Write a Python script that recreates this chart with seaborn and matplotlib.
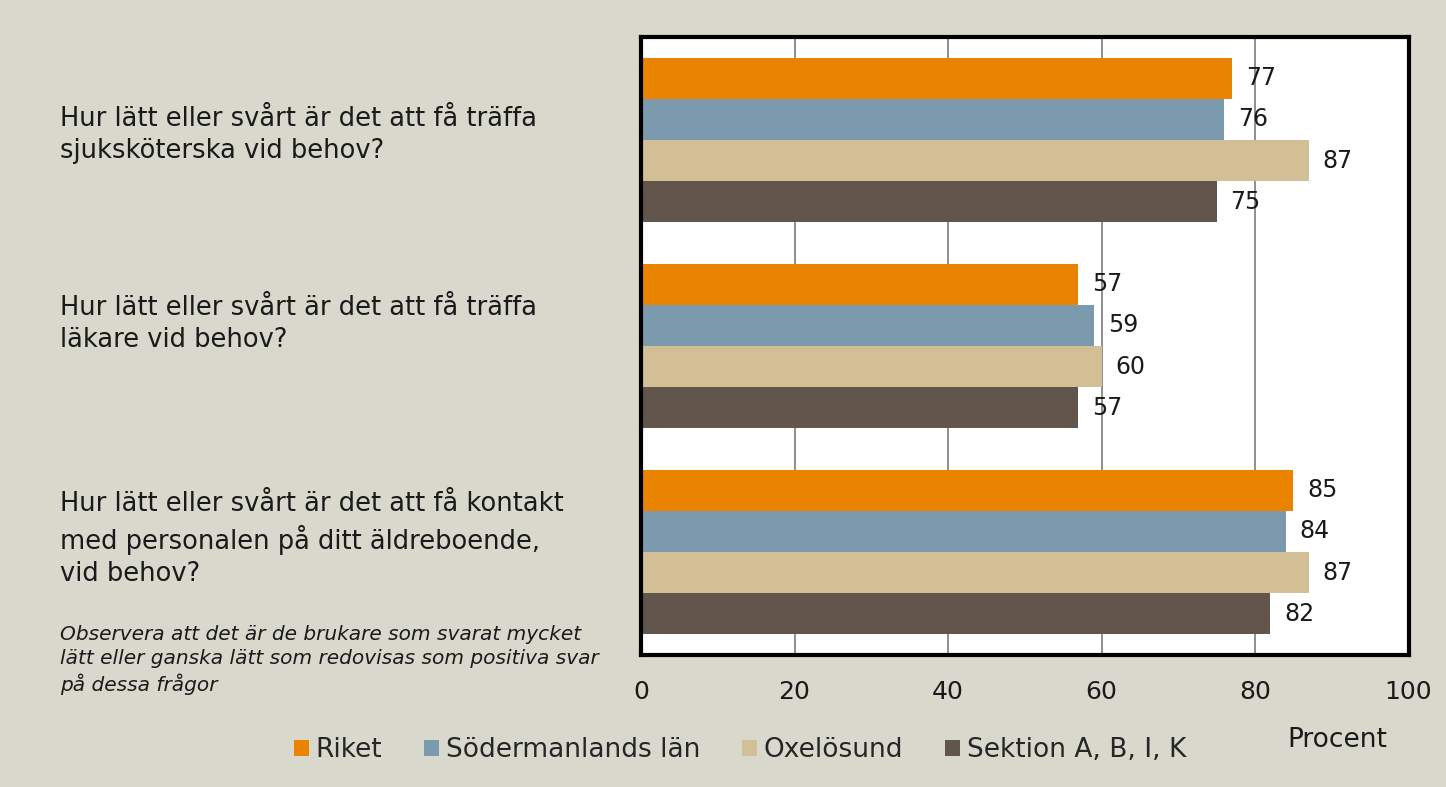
import matplotlib
matplotlib.use("Agg")
import matplotlib.pyplot as plt
import seaborn as sns
import pandas as pd

# ---- data ----
questions = [
    "Hur lätt eller svårt är det att få träffa\nsjuksköterska vid behov?",
    "Hur lätt eller svårt är det att få träffa\nläkare vid behov?",
    "Hur lätt eller svårt är det att få kontakt\nmed personalen på ditt äldreboende,\nvid behov?",
]
areas = ["Riket", "Södermanlands län", "Oxelösund", "Sektion A, B, I, K"]
riket = [77, 57, 85]
sodermanland = [76, 59, 84]
oxelosund = [87, 60, 87]
sektion = [75, 57, 82]
x_ticks = [0, 20, 40, 60, 80, 100]
x_label = "Procent"
note = ("Observera att det är de brukare som svarat mycket\n"
        "lätt eller ganska lätt som redovisas som positiva svar\n"
        "på dessa frågor")

# ---- style ----
BG = "#D9D8CC"
colors = ["#E98300", "#7B9AAD", "#D3BF95", "#62554B"]
label_offsets_px = [-5, -22, -13]

rows = []
for area, vals in zip(areas, [riket, sodermanland, oxelosund, sektion]):
    for q, v in zip(questions, vals):
        rows.append({"question": q, "area": area, "value": v})
df = pd.DataFrame(rows)

sns.set_theme(style="white")
plt.rcParams["font.family"] = ["DejaVu Sans"]

fig = plt.figure(figsize=(14.46, 7.87), dpi=100, facecolor=BG)
ax = fig.add_axes([641 / 1446, 1 - 655 / 787, (1408.5 - 641) / 1446, (655 - 37) / 787])
ax.set_facecolor("white")

sns.barplot(data=df, y="question", x="value", hue="area", order=questions,
            hue_order=areas, palette=colors, orient="h", width=0.8,
            saturation=1, ax=ax, errorbar=None, linewidth=0)

ax.set_xlim(0, 100)
ax.set_ylim(2.5, -0.5)
ax.set_xticks(x_ticks)
ax.set_xticklabels([str(t) for t in x_ticks], fontsize=18, color="#1a1a1a")
ax.tick_params(axis="x", length=0, pad=18)
ax.set_yticks([])
ax.set_xlabel("")
ax.set_ylabel("")
ax.grid(axis="x", color="#868686", linewidth=1.3)
ax.grid(axis="y", visible=False)
ax.set_axisbelow(True)
for s in ax.spines.values():
    s.set_visible(True)
    s.set_color("black")
    s.set_linewidth(3)

for cont in ax.containers:
    ax.bar_label(cont, labels=[f"{int(v)}" for v in cont.datavalues],
                 padding=10, fontsize=17, color="#1a1a1a")

# category labels on the left
for i, q in enumerate(questions):
    disp = ax.transData.transform((0, i))
    y_fig = (disp[1] - label_offsets_px[i]) / fig.bbox.height
    fig.text(60 / 1446, y_fig, q, ha="left", va="center", fontsize=18.5,
             color="#1a1a1a", linespacing=1.3)

fig.text(60 / 1446, 1 - 660 / 787, note, ha="left", va="center", fontsize=14.5,
         style="italic", color="#1a1a1a", linespacing=1.35)

fig.text(1337 / 1446, 1 - 740 / 787, x_label, ha="center", va="center",
         fontsize=19, color="#1a1a1a")

sns.move_legend(ax, loc="center", bbox_to_anchor=(740 / 1446, 1 - 750 / 787),
                bbox_transform=fig.transFigure, ncol=4, frameon=False,
                title=None, fontsize=19, handlelength=0.56, handleheight=0.56,
                handletextpad=0.25, columnspacing=1.6)

fig.savefig("out.png", dpi=100, facecolor=BG)
